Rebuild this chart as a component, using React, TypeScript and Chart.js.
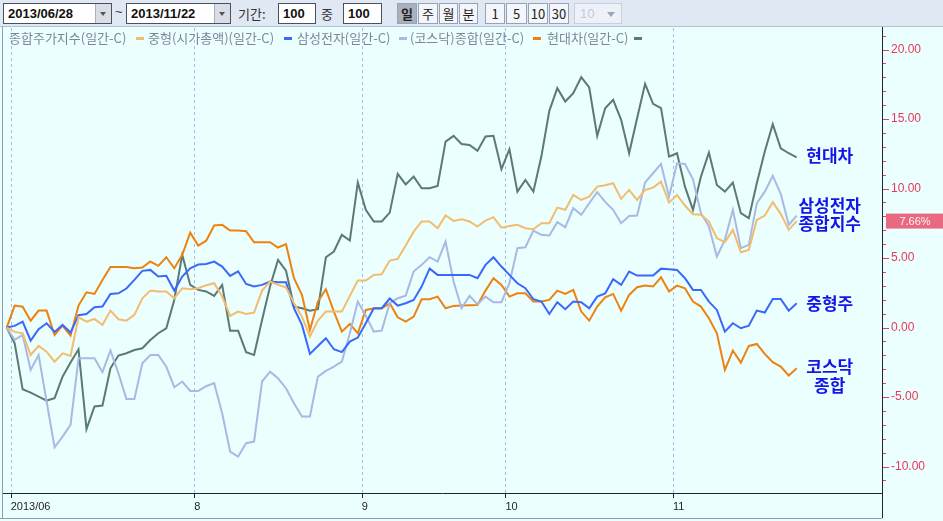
import React, { useEffect, useRef } from "react";
import { Chart, registerables } from "chart.js";

Chart.register(...registerables);

// ---------- data ----------
const seriesNames = [
  "종합주가지수(일간-C)",
  "중형(시가총액)(일간-C)",
  "삼성전자(일간-C)",
  "(코스닥)종합(일간-C)",
  "현대차(일간-C)",
];
const seriesColors = ["#f3bc6e", "#3a68fa", "#a9b9e3", "#ef820f", "#5a7a73"];

const kospi = [
  0, -0.31, -0.41, -1.97, -1.32, -1.73, -2.45, -1.85, -2.04, 0.74,
  0.43, 0.62, 0.19, 1.22, 0.6, 0.5, 0.91, 2.11, 2.66, 2.59,
  2.59, 2.11, 2.83, 2.76, 2.83, 3.05, 3.19, 2.23, 0.84, 1.15,
  0.98, 1.08, 2.66, 3.31, 3.07, 2.9, 1.75, 0.79, -0.65, 0.5,
  1.15, 1.15, 1.15, 2.28, 3.38, 3.38, 3.79, 3.84, 4.82, 4.94,
  5.9, 6.9, 7.63, 7.63, 7.15, 8.06, 7.67, 7.79, 7.63, 7.27,
  7.7, 7.94, 7.19, 7.31, 7.39, 7.15, 7.07, 7.51, 7.51, 8.63,
  8.47, 9.54, 9.18, 9.42, 10.14, 10.24, 10.38, 9.26, 9.9, 9.18,
  9.9, 10.07, 10.5, 8.99, 9.54, 8.78, 8.15, 8.11, 7.63, 6.43,
  6.14, 7.03, 5.42, 5.59, 7.75, 8.06, 9.02, 8.18, 7.03, 7.66,
];
const midcap = [
  0, 0.12, 0.43, -0.94, -0.12, 0.31, -0.31, 0.19, -0.36, 0.89,
  0.98, 1.46, 1.51, 2.42, 2.47, 2.81, 3.43, 4.08, 4.15, 3.67,
  3.72, 2.66, 3.67, 4.27, 4.53, 4.57, 4.75, 4.39, 3.72, 4.05,
  3.14, 2.95, 3.07, 3.31, 3.26, 3.26, 1.39, 0.19, -1.89, -1.32,
  -0.77, -1.56, -1.77, -1.01, -0.72, 0.31, 1.39, 1.39, 2.09, 1.58,
  1.75, 1.99, 2.95, 4.24, 3.79, 3.79, 3.79, 3.79, 3.79, 3.55,
  4.51, 5.06, 4.39, 3.79, 3.19, 2.83, 2.04, 1.87, 0.98, 1.82,
  1.32, 1.87, 1.82, 1.39, 2.23, 2.45, 3.48, 3.07, 4.03, 3.74,
  3.74, 3.74, 4.24, 4.2, 4.15, 3.55, 2.71, 2.71, 1.87, 1.27,
  -0.29, 0.31, -0.05, 0.14, 1.22, 1.08, 2.06, 2.06, 1.22, 1.75,
];
const samsung = [
  0, -0.89, -0.53, -3.05, -1.97, -5.32, -8.61, -7.84, -7.0, -2.21,
  -2.21, -2.21, -3.21, -1.65, -3.29, -5.13, -5.13, -2.57, -1.97, -1.97,
  -2.81, -4.29, -3.88, -4.56, -4.56, -4.22, -4.0, -6.16, -8.92, -9.28,
  -8.32, -8.2, -3.88, -3.17, -3.65, -4.36, -5.44, -6.4, -6.4, -3.53,
  -3.12, -2.81, -2.45, -0.41, 1.87, 0.86, -0.29, -0.22, 1.75, 2.11,
  2.3, 4.03, 4.51, 5.06, 4.75, 6.19, 3.31, 1.39, 2.28, 1.68,
  2.23, 1.82, 1.82, 3.19, 5.71, 5.78, 6.98, 6.67, 6.62, 7.58,
  7.22, 8.59, 8.11, 8.94, 9.74, 9.04, 8.47, 7.51, 8.03, 8.06,
  10.43, 11.1, 11.77, 9.42, 11.82, 11.77, 10.67, 8.23, 7.27, 5.11,
  6.31, 8.47, 5.71, 5.95, 8.94, 9.78, 10.91, 9.62, 7.39, 8.06,
];
const kosdaq = [
  0, 1.58, 1.5, 0.5, 1.22, 1.22, -0.53, 0.14, -0.58, 1.58,
  2.54, 2.42, 3.43, 4.36, 4.36, 4.36, 4.27, 4.32, 4.75, 4.44,
  5.06, 4.27, 5.23, 6.83, 5.9, 6.25, 7.34, 7.39, 6.98, 6.98,
  6.93, 6.14, 6.14, 6.14, 5.76, 6.0, 3.55, 2.35, -0.17, 1.87,
  2.76, 1.15, -0.29, 0.26, -0.41, 1.27, 1.37, 1.37, 1.75, 0.74,
  0.43, 0.79, 2.04, 2.04, 2.23, 1.39, 1.56, 1.58, 1.6, 1.63,
  2.66, 3.55, 3.07, 2.23, 2.47, 2.47, 1.87, 1.87, 1.99, 2.66,
  2.42, 2.71, 1.15, 0.5, 1.51, 2.17, 2.42, 1.22, 2.35, 2.9,
  3.02, 2.95, 3.62, 2.59, 3.02, 2.83, 1.87, 1.51, 0.67, -0.41,
  -3.05, -1.65, -2.52, -1.32, -1.18, -1.89, -2.49, -2.81, -3.45, -2.93,
];
const hyundai = [
  0, -1.13, -4.44, -4.68, -4.96, -5.25, -5.08, -3.53, -2.52, -1.56,
  -7.31, -5.68, -5.61, -2.93, -2.01, -1.85, -1.61, -1.49, -0.89, -0.41,
  -0.05, 1.99, 5.23, 3.07, 2.71, 2.6, 2.28, 3.07, -0.22, -0.22,
  -1.77, -1.97, 0.55, 2.95, 4.87, 4.1, 1.51, 1.39, 1.22, 1.32,
  5.06, 5.47, 6.67, 6.26, 10.43, 8.47, 7.63, 7.63, 8.27, 11.06,
  10.3, 10.86, 10.02, 10.02, 10.19, 13.38, 13.79, 13.21, 13.14, 12.71,
  13.74, 13.79, 11.39, 12.83, 9.78, 10.62, 9.78, 12.3, 15.59, 17.22,
  16.26, 16.86, 18.01, 17.27, 13.79, 15.78, 16.38, 14.94, 12.54, 15.06,
  17.53, 16.09, 15.78, 12.3, 12.54, 10.14, 8.47, 10.86, 12.59, 10.26,
  9.78, 10.43, 8.23, 7.87, 10.38, 12.66, 14.63, 12.9, 12.54, 12.25,
];
const seriesValues = [kospi, midcap, samsung, kosdaq, hyundai];

const monthTickPositions = [0.5, 23.5, 44.5, 62.5, 83.5];
const monthTickLabels = ["2013/06", "8", "9", "10", "11"];
const annotationTexts = ["현대차", "삼성전자", "종합지수", "중형주", "코스닥", "종합"];

const startDate = "2013/06/28";
const endDate = "2013/11/22";
const periodValue = "100";
const ofValue = "100";

// ---------- helpers ----------
const KR = '"Noto Sans CJK KR", "Noto Sans", sans-serif';
const LAT = '"Liberation Sans", Arial, sans-serif';
const last = (a: number[]) => a[a.length - 1];

const framePlugin = {
  id: "frame",
  beforeDraw(chart: any) {
    const { ctx, width, height, chartArea, scales } = chart;
    const { top, bottom } = chartArea;
    ctx.save();
    ctx.fillStyle = "#ebfffe";
    ctx.fillRect(0, 0, width, height);
    ctx.strokeStyle = "#aab9e6";
    ctx.lineWidth = 1;
    ctx.setLineDash([3, 3]);
    monthTickPositions.forEach((v) => {
      const px = Math.round(scales.x.getPixelForValue(v)) + 0.5;
      ctx.beginPath();
      ctx.moveTo(px, top);
      ctx.lineTo(px, bottom);
      ctx.stroke();
    });
    ctx.restore();
  },
  afterDraw(chart: any) {
    const { ctx, width, chartArea, scales } = chart;
    const { left, right, top, bottom } = chartArea;
    const x = scales.x;
    const y = scales.y;
    ctx.save();
    // frame lines
    ctx.strokeStyle = "#1e2634";
    ctx.lineWidth = 1;
    ctx.beginPath();
    ctx.moveTo(Math.round(right) + 0.5, top - 1);
    ctx.lineTo(Math.round(right) + 0.5, 518);
    ctx.moveTo(left, Math.round(bottom) + 0.5);
    ctx.lineTo(right, Math.round(bottom) + 0.5);
    ctx.stroke();
    ctx.strokeStyle = "#8f9cb8";
    ctx.beginPath();
    ctx.moveTo(0, 518.5);
    ctx.lineTo(right, 518.5);
    ctx.moveTo(2.5, top - 1);
    ctx.lineTo(2.5, 519);
    ctx.stroke();
    // x tick marks
    ctx.strokeStyle = "#1e2634";
    monthTickPositions.forEach((v) => {
      const px = Math.round(x.getPixelForValue(v)) + 0.5;
      ctx.beginPath();
      ctx.moveTo(px, bottom);
      ctx.lineTo(px, bottom + 5);
      ctx.stroke();
    });
    // y tick marks (major every 5, minor every 1)
    ctx.strokeStyle = "#e8405e";
    for (let v = Math.ceil(y.min); v <= Math.floor(y.max); v++) {
      const py = Math.round(y.getPixelForValue(v)) + 0.5;
      const len = v % 5 === 0 ? 6 : 3;
      ctx.beginPath();
      ctx.moveTo(right + 1, py);
      ctx.lineTo(right + 1 + len, py);
      ctx.stroke();
    }
    // current value box
    const vy = y.getPixelForValue(last(kospi));
    ctx.fillStyle = "#e96a80";
    ctx.fillRect(right + 4, vy - 7.5, width - right - 4, 15);
    ctx.fillStyle = "#fff2f5";
    ctx.font = `11px ${LAT}`;
    ctx.textAlign = "center";
    ctx.textBaseline = "middle";
    ctx.fillText(last(kospi).toFixed(2) + "%", right + 33, vy + 0.5);
    // annotations
    const ax = x.getPixelForValue(kospi.length - 1) + 33;
    const ys = [
      y.getPixelForValue(last(hyundai)) - 1.4,
      y.getPixelForValue(last(samsung)) - 9.7,
      y.getPixelForValue(last(kospi)) + 2.8,
      y.getPixelForValue(last(midcap)) + 0.6,
      y.getPixelForValue(last(kosdaq)) - 1.4,
      y.getPixelForValue(last(kosdaq)) + 17.6,
    ];
    ctx.fillStyle = "#1515e8";
    ctx.font = `bold 17px ${KR}`;
    annotationTexts.forEach((t, i) => ctx.fillText(t, ax, ys[i]));
    ctx.restore();
  },
};

function Box({ left, width, text, arrow }: any) {
  return (
    <div
      style={{
        position: "absolute",
        left,
        top: 3,
        width,
        height: 21,
        boxSizing: "border-box",
        border: "1px solid #4a505c",
        background: "#fff",
        font: `bold 13px ${LAT}`,
        color: "#111",
        lineHeight: "19px",
        paddingLeft: 4,
      }}
    >
      {text}
      {arrow && (
        <div
          style={{
            position: "absolute",
            right: 0,
            top: 0,
            width: 15,
            height: 19,
            background: "#d9dde6",
            borderLeft: "1px solid #a8afbd",
          }}
        >
          <div
            style={{
              position: "absolute",
              left: 4,
              top: 8,
              width: 0,
              height: 0,
              borderLeft: "3.5px solid transparent",
              borderRight: "3.5px solid transparent",
              borderTop: "4px solid #555",
            }}
          />
        </div>
      )}
    </div>
  );
}

function Btn({ left, width, text, pressed, disabled }: any) {
  return (
    <div
      style={{
        position: "absolute",
        left,
        top: 3,
        width,
        height: 21,
        boxSizing: "border-box",
        border: `1px solid ${disabled ? "#c8d0dc" : "#9aa3b3"}`,
        background: pressed ? "#a9b1be" : "#f3f6fa",
        color: disabled ? "#c3cad8" : "#222",
        font: `${pressed ? "bold " : ""}13px ${KR}`,
        lineHeight: "19px",
        textAlign: "center",
      }}
    >
      {text}
    </div>
  );
}

export default function App() {
  const canvasRef = useRef<HTMLCanvasElement | null>(null);

  useEffect(() => {
    if (!canvasRef.current) return;
    const chart = new Chart(canvasRef.current, {
      type: "line",
      data: {
        datasets: seriesValues.map((vals, si) => ({
          label: seriesNames[si],
          data: vals.map((v, i) => ({ x: i, y: v })),
          borderColor: seriesColors[si],
          backgroundColor: seriesColors[si],
          borderWidth: 2,
          pointRadius: 0,
          tension: 0,
          fill: false,
        })),
      },
      options: {
        responsive: false,
        animation: false,
        events: [],
        layout: { padding: { left: 3, top: 28, right: 0, bottom: 0 } },
        plugins: { legend: { display: false }, tooltip: { enabled: false } },
        scales: {
          x: {
            type: "linear",
            position: "bottom",
            min: -0.464,
            max: 109.69,
            grid: { display: false, drawTicks: false },
            border: { display: false },
            afterBuildTicks: (sc: any) => {
              sc.ticks = monthTickPositions.map((v) => ({ value: v }));
            },
            ticks: {
              autoSkip: false,
              maxRotation: 0,
              align: "start",
              padding: 7,
              color: "#262626",
              font: { family: LAT, size: 11 },
              callback: (_v: any, i: number) => monthTickLabels[i],
            },
            afterFit: (sc: any) => {
              sc.height = 28;
            },
          },
          y: {
            type: "linear",
            position: "right",
            min: -11.9,
            max: 21.55,
            grid: { display: false, drawTicks: false },
            border: { display: false },
            ticks: {
              stepSize: 1,
              autoSkip: false,
              includeBounds: false,
              padding: 9,
              color: "#e8385a",
              font: { family: LAT, size: 12 },
              callback: (v: any) => (Math.round(v) % 5 === 0 ? Number(v).toFixed(2) : ""),
            },
            afterFit: (sc: any) => {
              sc.width = 61;
            },
          },
        },
      } as any,
      plugins: [framePlugin],
    });
    return () => chart.destroy();
  }, []);

  const legendTextX = [9, 148, 297, 410, 547];
  const legendMarkX = [136, 284, 399, 533, 634];

  return (
    <div style={{ position: "absolute", left: 0, top: 0, width: 943, height: 521, overflow: "hidden" }}>
      <canvas ref={canvasRef} width={943} height={521} style={{ position: "absolute", left: 0, top: 0 }} />
      {/* toolbar */}
      <div
        style={{
          position: "absolute",
          left: 0,
          top: 0,
          width: 943,
          height: 27,
          background: "#e0e8f4",
          borderBottom: "1px solid #b4c0d6",
          boxSizing: "border-box",
        }}
      >
        <Box left={3} width={109} text={startDate} arrow />
        <div style={{ position: "absolute", left: 115, top: 4, font: `13px ${LAT}`, color: "#333" }}>~</div>
        <Box left={126} width={105} text={endDate} arrow />
        <div style={{ position: "absolute", left: 238, top: 4, font: `13px ${KR}`, color: "#333", lineHeight: "19px" }}>
          기간:
        </div>
        <Box left={278} width={38} text={periodValue} />
        <div style={{ position: "absolute", left: 321, top: 4, font: `13px ${KR}`, color: "#333", lineHeight: "19px" }}>
          중
        </div>
        <Box left={343} width={39} text={ofValue} />
        <Btn left={397} width={20} text="일" pressed />
        <Btn left={418} width={20} text="주" />
        <Btn left={439} width={19} text="월" />
        <Btn left={459} width={19} text="분" />
        <Btn left={485} width={20} text="1" />
        <Btn left={506} width={21} text="5" />
        <Btn left={528} width={20} text="10" />
        <Btn left={549} width={20} text="30" />
        <div
          style={{
            position: "absolute",
            left: 574,
            top: 3,
            width: 48,
            height: 21,
            boxSizing: "border-box",
            border: "1px solid #c8d0dc",
            background: "#eef2f8",
            color: "#c3cad8",
            font: `13px ${LAT}`,
            lineHeight: "19px",
            paddingLeft: 5,
          }}
        >
          10
          <div
            style={{
              position: "absolute",
              right: 6,
              top: 8,
              width: 0,
              height: 0,
              borderLeft: "4px solid transparent",
              borderRight: "4px solid transparent",
              borderTop: "5px solid #9aa6ba",
            }}
          />
        </div>
      </div>
      {/* legend */}
      {seriesNames.map((n, i) => (
        <React.Fragment key={n}>
          <div
            style={{
              position: "absolute",
              left: legendTextX[i],
              top: 29,
              font: `13px ${KR}`,
              color: "#80859a",
              lineHeight: "17px",
              whiteSpace: "nowrap",
            }}
          >
            {n}
          </div>
          <div
            style={{
              position: "absolute",
              left: legendMarkX[i],
              top: 37,
              width: 8,
              height: 3,
              background: seriesColors[i],
            }}
          />
        </React.Fragment>
      ))}
    </div>
  );
}
